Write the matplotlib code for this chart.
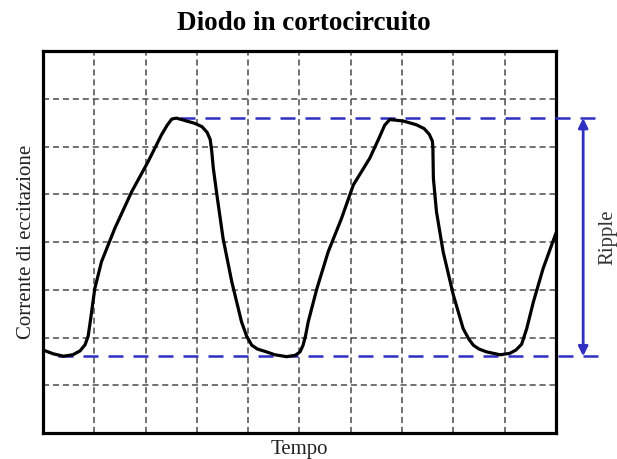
import numpy as np
import matplotlib.pyplot as plt

# oscilloscope trace of the excitation current, in grid divisions
tempo = [0.00, 0.20, 0.40, 0.58, 0.72, 0.82, 0.88, 0.93, 1.01, 1.14, 1.40, 1.73,
         2.05, 2.31, 2.42, 2.51, 2.60, 2.70, 2.96, 3.10, 3.20, 3.26, 3.29, 3.32,
         3.39, 3.51, 3.68, 3.87, 3.97, 4.07, 4.18, 4.33, 4.52, 4.75, 4.92, 5.01,
         5.07, 5.12, 5.17, 5.34, 5.56, 5.82, 6.05, 6.37, 6.55, 6.66, 6.76, 7.02,
         7.28, 7.43, 7.53, 7.59, 7.60, 7.61, 7.67, 7.80, 8.00, 8.19, 8.30, 8.39,
         8.50, 8.65, 8.91, 9.10, 9.22, 9.33, 9.43, 9.56, 9.75, 10.00]
corrente = [1.74, 1.66, 1.61, 1.64, 1.72, 1.85, 2.03, 2.40, 3.03, 3.59, 4.29, 5.06,
            5.69, 6.25, 6.45, 6.58, 6.60, 6.57, 6.49, 6.42, 6.30, 6.15, 5.90, 5.55,
            4.99, 4.08, 3.17, 2.33, 2.03, 1.84, 1.76, 1.71, 1.64, 1.60, 1.63, 1.70,
            1.84, 2.05, 2.33, 3.03, 3.80, 4.50, 5.20, 5.76, 6.18, 6.45, 6.57, 6.54,
            6.46, 6.38, 6.26, 6.12, 6.00, 5.34, 4.64, 3.80, 2.89, 2.19, 1.97, 1.84,
            1.76, 1.70, 1.64, 1.67, 1.74, 1.86, 2.19, 2.75, 3.45, 4.19]

i_max = 6.6
i_min = 1.61
n_div_x = 10
n_div_y = 8

blu = '#2f2fc4'

plt.rcParams['font.family'] = ['Liberation Serif', 'DejaVu Serif']

fig = plt.figure(figsize=(6.17, 4.59), dpi=100)
ax = fig.add_axes([0.0697, 0.0566, 0.8314, 0.8316])
ax.set_xlim(0, n_div_x)
ax.set_ylim(0, n_div_y)

# dashed division grid
for k in range(1, n_div_x):
    ax.axvline(k, color='#4a4a4a', lw=1.1, ls=(0, (4, 2.5)), zorder=1)
for k in range(1, n_div_y):
    ax.axhline(k, color='#4a4a4a', lw=1.1, ls=(0, (4, 2.5)), zorder=1)

ax.plot(tempo, corrente, color='black', lw=2.3, solid_joinstyle='round',
        solid_capstyle='round', zorder=4)

# ripple markers
x_end = 10.86
ax.plot([2.67, x_end], [i_max, i_max], color=blu, lw=1.8, dashes=(6, 4),
        clip_on=False, zorder=3)
ax.plot([0.3, x_end], [i_min, i_min], color=blu, lw=1.8, dashes=(6, 4),
        clip_on=False, zorder=3)
ax.annotate('', xy=(10.53, i_max), xytext=(10.53, i_min),
            arrowprops=dict(arrowstyle='<|-|>', color=blu, lw=2,
                            mutation_scale=14, shrinkA=0, shrinkB=0),
            annotation_clip=False)
ax.text(11.02, (i_max + i_min) / 2, 'Ripple', rotation=90, ha='center',
        va='center', fontsize=15, color='#333333')

ax.set_xticks([])
ax.set_yticks([])
for s in ax.spines.values():
    s.set_linewidth(2.3)

ax.set_xlabel('Tempo', fontsize=15, labelpad=5, color='#222222')
ax.set_ylabel('Corrente di eccitazione', fontsize=15, labelpad=5, color='#222222')
fig.text(0.492, 0.948, 'Diodo in cortocircuito', ha='center', va='center',
         fontsize=19.5, fontweight='bold')

fig.savefig('out.png', dpi=100)
